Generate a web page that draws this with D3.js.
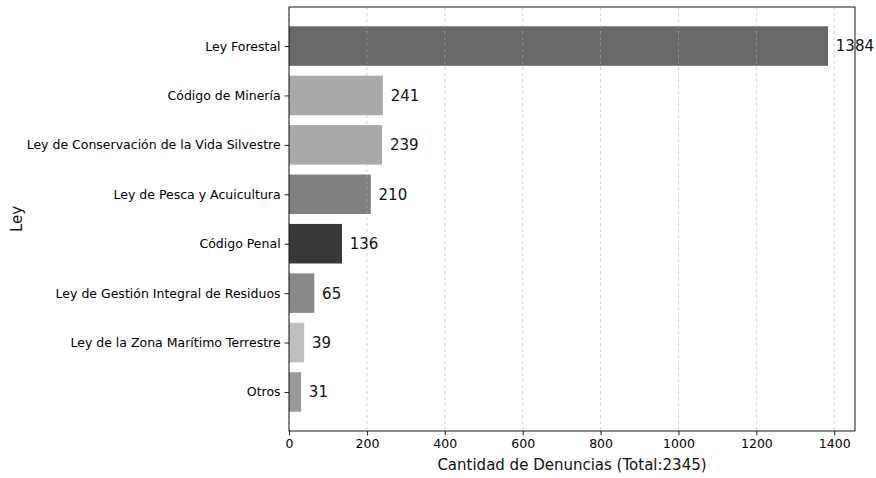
<!DOCTYPE html>
<html><head><meta charset="utf-8">
<script src="https://cdn.jsdelivr.net/npm/d3@7"></script>
<style>body{margin:0;background:#fff}svg{display:block;font-family:"DejaVu Sans",sans-serif}</style>
</head><body><svg id="c" width="876" height="478"></svg>
<script>
const categories=["Ley Forestal","Código de Minería","Ley de Conservación de la Vida Silvestre","Ley de Pesca y Acuicultura","Código Penal","Ley de Gestión Integral de Residuos","Ley de la Zona Marítimo Terrestre","Otros"];
const values=[1384,241,239,210,136,65,39,31];
const colors=["#696969","#a9a9a9","#a9a9a9","#808080","#383838","#898989","#bebebe","#999999"];
const xTicks=[0,200,400,600,800,1000,1200,1400];
const xLabel="Cantidad de Denuncias (Total:2345)";
const yLabel="Ley";

const svg=d3.select("#c");
const L=289,R=855,T=7,B=431;
const x=d3.scaleLinear().domain([0,1384*1.05]).range([L,R]);
const n=categories.length;
const y=d3.scaleLinear().domain([-0.4-0.39,n-1+0.4+0.39]).range([T,B]);
const bw=(y(0.4)-y(-0.4));

svg.append("g").selectAll("rect").data(values).join("rect")
 .attr("x",x(0)).attr("y",(d,i)=>y(i-0.4)).attr("width",d=>x(d)-x(0)).attr("height",bw)
 .attr("fill",(d,i)=>colors[i]);

// grid on top
svg.append("g").selectAll("line").data(xTicks).join("line")
 .attr("x1",d=>x(d)).attr("x2",d=>x(d)).attr("y1",T).attr("y2",B)
 .attr("stroke","#b0b0b0").attr("stroke-width",0.8).attr("stroke-dasharray","3,3").attr("opacity",0.7);

svg.append("g").selectAll("text").data(values).join("text")
 .attr("x",d=>x(d+20)).attr("y",(d,i)=>y(i)).attr("dy","0.36em")
 .attr("font-size","15px").attr("fill","#111").text(d=>d);

svg.append("rect").attr("x",L).attr("y",T).attr("width",R-L).attr("height",B-T)
 .attr("fill","none").attr("stroke","#000").attr("stroke-width",0.9);

const xa=svg.append("g").attr("transform",`translate(0,${B})`)
 .call(d3.axisBottom(x).tickValues(xTicks).tickSize(4.4).tickPadding(4).tickFormat(d3.format("d")));
xa.select(".domain").remove();
xa.selectAll("text").attr("font-size","12.5px").attr("font-family","DejaVu Sans").attr("fill","#000");
xa.selectAll("line").attr("stroke","#000").attr("stroke-width",0.9);

const ya=svg.append("g").attr("transform",`translate(${L},0)`)
 .call(d3.axisLeft(y).tickValues(d3.range(n)).tickSize(4.4).tickPadding(4).tickFormat(i=>categories[i]));
ya.select(".domain").remove();
ya.selectAll("text").attr("font-size","12.5px").attr("font-family","DejaVu Sans").attr("fill","#000");
ya.selectAll("line").attr("stroke","#000").attr("stroke-width",0.9);

svg.append("text").attr("x",(L+R)/2).attr("y",470).attr("text-anchor","middle")
 .attr("font-size","15px").attr("fill","#111").text(xLabel);
svg.append("text").attr("transform",`translate(22,${(T+B)/2}) rotate(-90)`).attr("text-anchor","middle")
 .attr("font-size","15px").attr("fill","#111").text(yLabel);
</script></body></html>
